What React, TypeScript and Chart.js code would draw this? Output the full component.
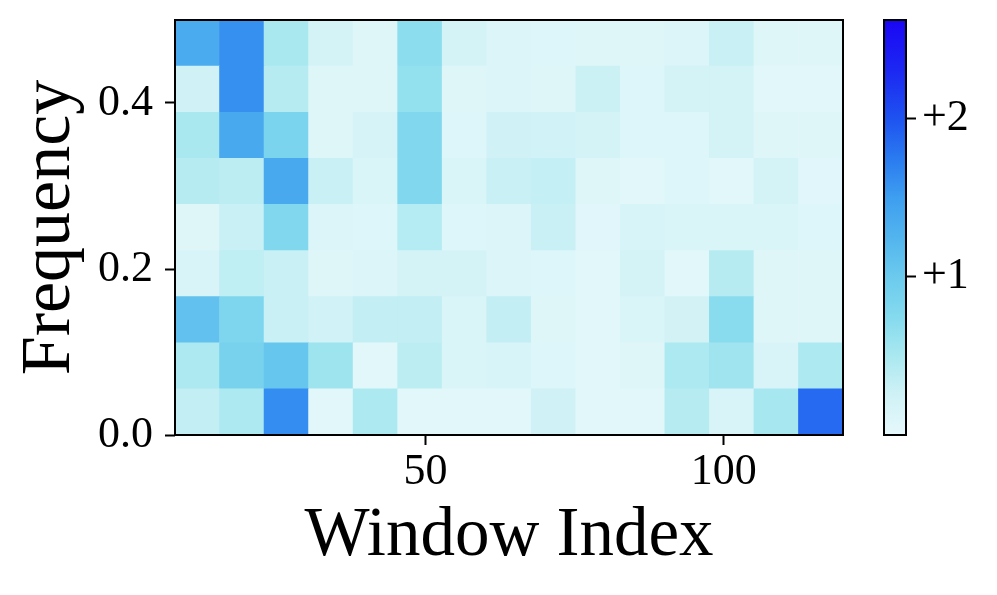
import React, { useEffect, useRef } from "react";
import { Chart, registerables } from "chart.js";

Chart.register(...registerables);

// ---- data ----
const windowMin = 8;
const windowMax = 120;
const windowLabels = [
  "11.7", "19.2", "26.7", "34.1", "41.6", "49.1", "56.5", "64.0",
  "71.5", "78.9", "86.4", "93.9", "101.3", "108.8", "116.3",
];
const freqMax = 0.5;
const freqBins = 9;
const xTickValues = [50, 100];
const yTickValues = [0, 0.2, 0.4];
const cbMin = 0;
const cbMax = 2.62;
const cbTickValues = [1, 2];

// intensity rows from lowest frequency bin (bottom) to highest (top)
const row0 = [0.34, 0.48, 1.62, 0.06, 0.48, 0.06, 0.06, 0.06, 0.25, 0.06, 0.06, 0.42, 0.15, 0.52, 1.85];
const row1 = [0.48, 0.88, 1.05, 0.58, 0.05, 0.38, 0.14, 0.17, 0.1, 0.06, 0.08, 0.48, 0.57, 0.15, 0.48];
const row2 = [1.1, 0.82, 0.3, 0.24, 0.34, 0.34, 0.14, 0.34, 0.08, 0.06, 0.14, 0.23, 0.72, 0.08, 0.08];
const row3 = [0.15, 0.36, 0.3, 0.08, 0.12, 0.2, 0.2, 0.12, 0.1, 0.06, 0.2, 0.05, 0.42, 0.08, 0.08];
const row4 = [0.08, 0.3, 0.78, 0.12, 0.1, 0.43, 0.1, 0.13, 0.3, 0.07, 0.17, 0.14, 0.14, 0.14, 0.1];
const row5 = [0.42, 0.38, 1.38, 0.3, 0.14, 0.78, 0.14, 0.3, 0.33, 0.08, 0.06, 0.1, 0.06, 0.2, 0.07];
const row6 = [0.5, 1.38, 0.85, 0.08, 0.18, 0.78, 0.1, 0.25, 0.24, 0.22, 0.1, 0.1, 0.2, 0.08, 0.08];
const row7 = [0.25, 1.6, 0.42, 0.08, 0.08, 0.65, 0.08, 0.12, 0.08, 0.28, 0.1, 0.2, 0.2, 0.06, 0.06];
const row8 = [1.35, 1.6, 0.5, 0.2, 0.08, 0.7, 0.2, 0.12, 0.1, 0.08, 0.08, 0.12, 0.3, 0.08, 0.08];
const intensityRows = [row0, row1, row2, row3, row4, row5, row6, row7, row8];

// colormap stops: [value, r, g, b]
const cmapStops: number[][] = [
  [0.0, 230, 248, 251],
  [0.25, 208, 242, 246],
  [0.5, 170, 232, 240],
  [0.75, 132, 218, 238],
  [1.0, 108, 202, 238],
  [1.25, 82, 180, 238],
  [1.5, 62, 158, 240],
  [1.75, 42, 122, 240],
  [2.0, 30, 82, 240],
  [2.3, 28, 40, 242],
  [2.62, 26, 6, 245],
];

function cmap(v: number): string {
  if (v <= cmapStops[0][0]) {
    const s = cmapStops[0];
    return `rgb(${s[1]},${s[2]},${s[3]})`;
  }
  for (let i = 1; i < cmapStops.length; i++) {
    const a = cmapStops[i - 1];
    const b = cmapStops[i];
    if (v <= b[0]) {
      const t = (v - a[0]) / (b[0] - a[0]);
      const r = Math.round(a[1] + (b[1] - a[1]) * t);
      const g = Math.round(a[2] + (b[2] - a[2]) * t);
      const bb = Math.round(a[3] + (b[3] - a[3]) * t);
      return `rgb(${r},${g},${bb})`;
    }
  }
  const s = cmapStops[cmapStops.length - 1];
  return `rgb(${s[1]},${s[2]},${s[3]})`;
}

const FONT = '"Liberation Serif", "Times New Roman", Times, serif';

const framePlugin = {
  id: "frame",
  afterDraw(chart: any) {
    const { ctx, chartArea } = chart;
    ctx.save();
    ctx.strokeStyle = "#000";
    ctx.lineWidth = 2;
    ctx.strokeRect(chartArea.left, chartArea.top, chartArea.right - chartArea.left, chartArea.bottom - chartArea.top);
    ctx.restore();
  },
};

const tickGrid = {
  display: true,
  offset: false,
  drawOnChartArea: false,
  drawTicks: true,
  tickLength: 10,
  tickWidth: 2,
  tickColor: "#000",
};

export default function App() {
  const mainRef = useRef<HTMLCanvasElement>(null);
  const cbRef = useRef<HTMLCanvasElement>(null);

  useEffect(() => {
    const bin = freqMax / freqBins;
    const datasets = intensityRows.map((row, r) => ({
      data: row.map(() => [r * bin, (r + 1) * bin]),
      backgroundColor: row.map((v) => cmap(v)),
      borderWidth: 0,
      barPercentage: 1,
      categoryPercentage: 1,
      grouped: false,
      xAxisID: "x",
      yAxisID: "y",
    }));

    const main = new Chart(mainRef.current!, {
      type: "bar",
      data: { labels: windowLabels, datasets: datasets as any },
      options: {
        responsive: false,
        animation: false,
        devicePixelRatio: 1,
        layout: { padding: { top: 20, right: 17, left: 0, bottom: 0 } },
        plugins: { legend: { display: false }, tooltip: { enabled: false } },
        scales: {
          x: { type: "category", display: false, offset: true },
          xv: {
            type: "linear",
            position: "bottom",
            offset: false,
            min: windowMin,
            max: windowMax,
            afterBuildTicks: (s: any) => {
              s.ticks = xTickValues.map((v) => ({ value: v }));
            },
            afterFit: (s: any) => {
              s.height = 160;
              s.paddingLeft = 0;
              s.paddingRight = 0;
            },
            border: { display: false },
            grid: tickGrid,
            ticks: {
              color: "#000",
              padding: 1,
              maxRotation: 0,
              font: { family: FONT, size: 44 },
              callback: (v: any) => String(v),
            },
            title: {
              display: true,
              text: "Window Index",
              color: "#000",
              font: { family: FONT, size: 69, lineHeight: 1.2 },
              padding: { top: 0, bottom: 17 },
            },
          },
          y: {
            type: "linear",
            min: 0,
            max: freqMax,
            afterBuildTicks: (s: any) => {
              s.ticks = yTickValues.map((v) => ({ value: v }));
            },
            afterFit: (s: any) => {
              s.width = 175;
              s.paddingTop = 0;
              s.paddingBottom = 0;
            },
            border: { display: false },
            grid: tickGrid,
            ticks: {
              color: "#000",
              padding: 12,
              font: { family: FONT, size: 44 },
              callback: (v: any) => Number(v).toFixed(1),
            },
            title: {
              display: true,
              text: "Frequency",
              color: "#000",
              font: { family: FONT, size: 70, lineHeight: 1.2 },
              padding: { top: 9, bottom: 0 },
            },
          },
        },
      },
      plugins: [framePlugin],
    } as any);

    const cb = new Chart(cbRef.current!, {
      type: "bar",
      data: {
        labels: ["cb"],
        datasets: [
          {
            data: [[cbMin, cbMax]],
            borderWidth: 0,
            barPercentage: 1,
            categoryPercentage: 1,
            backgroundColor: (context: any) => {
              const chart = context.chart;
              const ys = chart.scales.y;
              if (!chart.chartArea || !ys) return cmap(cbMin);
              const g = chart.ctx.createLinearGradient(0, ys.getPixelForValue(cbMin), 0, ys.getPixelForValue(cbMax));
              cmapStops.forEach((s) => {
                g.addColorStop((s[0] - cbMin) / (cbMax - cbMin), `rgb(${s[1]},${s[2]},${s[3]})`);
              });
              return g;
            },
          },
        ],
      },
      options: {
        responsive: false,
        animation: false,
        devicePixelRatio: 1,
        layout: { padding: { top: 20, right: 0, left: 24, bottom: 160 } },
        plugins: { legend: { display: false }, tooltip: { enabled: false } },
        scales: {
          x: { type: "category", display: false, offset: true },
          y: {
            type: "linear",
            position: "right",
            min: cbMin,
            max: cbMax,
            afterBuildTicks: (s: any) => {
              s.ticks = cbTickValues.map((v) => ({ value: v }));
            },
            afterFit: (s: any) => {
              s.width = 91;
              s.paddingTop = 0;
              s.paddingBottom = 0;
            },
            border: { display: false },
            grid: tickGrid,
            ticks: {
              color: "#000",
              padding: 6,
              font: { family: FONT, size: 44 },
              callback: (v: any) => "+" + v,
            },
          },
        },
      },
      plugins: [framePlugin],
    } as any);

    return () => {
      main.destroy();
      cb.destroy();
    };
  }, []);

  return (
    <div style={{ position: "fixed", left: 0, top: 0, width: 997, height: 595, background: "#fff" }}>
      <canvas ref={mainRef} width={860} height={595} style={{ position: "absolute", left: 0, top: 0, width: 860, height: 595 }} />
      <canvas ref={cbRef} width={137} height={595} style={{ position: "absolute", left: 860, top: 0, width: 137, height: 595 }} />
    </div>
  );
}
